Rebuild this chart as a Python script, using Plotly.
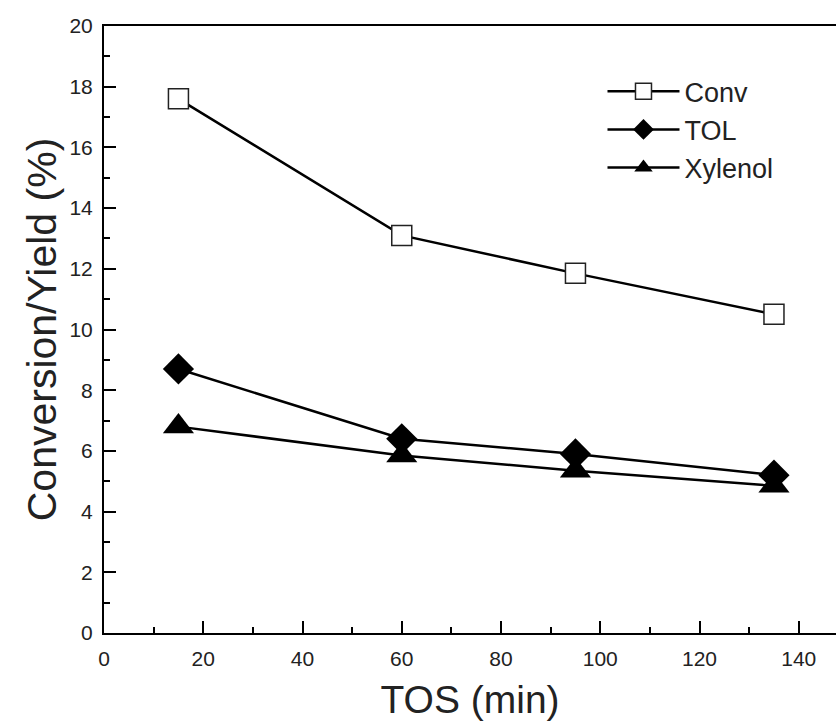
import plotly.graph_objects as go

tos = [15, 60, 95, 135]
conv = [17.6, 13.1, 11.85, 10.5]
tol = [8.7, 6.4, 5.9, 5.2]
xylenol = [6.8, 5.85, 5.35, 4.85]

FONT = "Liberation Sans, Arial, sans-serif"
TXT = "#222"

fig = go.Figure()
fig.add_trace(go.Scatter(
    x=tos, y=conv, name="Conv", mode="lines+markers", legendgroup="a",
    line=dict(color="black", width=2.5),
    marker=dict(symbol="square", size=20, color="white", line=dict(color="#222", width=1.5)),
))
fig.add_trace(go.Scatter(
    x=tos, y=tol, name="TOL", mode="lines+markers", legendgroup="b",
    line=dict(color="black", width=2.5),
    marker=dict(symbol="diamond", size=24, color="black"),
))
fig.add_trace(go.Scatter(
    x=tos, y=xylenol, name="Xylenol", mode="lines+markers", legendgroup="c",
    line=dict(color="black", width=2.5),
    marker=dict(symbol="triangle-up", size=27, color="black"),
))

fig.update_layout(
    width=836, height=726,
    margin=dict(l=104, r=0, t=26, b=93),
    plot_bgcolor="white", paper_bgcolor="white",
    font=dict(family=FONT, color=TXT),
    showlegend=True,
    legend=dict(
        x=0.681, y=0.932, xanchor="left", yanchor="top",
        bgcolor="rgba(0,0,0,0)", font=dict(size=27, family=FONT, color=TXT),
        itemwidth=72, traceorder="grouped", tracegroupgap=0,
    ),
    xaxis=dict(
        range=[0, 147.5], dtick=20, tick0=0,
        showline=True, linecolor="black", linewidth=2, mirror=True,
        ticks="inside", ticklen=12, tickwidth=2, tickcolor="black",
        minor=dict(dtick=10, ticks="inside", ticklen=6, tickwidth=2, tickcolor="black"),
        showgrid=False, zeroline=False,
        ticklabelstandoff=6,
        tickfont=dict(size=21, family=FONT, color=TXT),
        title=dict(text="TOS (min)", font=dict(size=39, family=FONT, color=TXT), standoff=16),
    ),
    yaxis=dict(
        range=[0, 20], dtick=2, tick0=0,
        showline=True, linecolor="black", linewidth=2, mirror=False,
        ticks="inside", ticklen=12, tickwidth=2, tickcolor="black",
        minor=dict(dtick=1, ticks="inside", ticklen=6, tickwidth=2, tickcolor="black"),
        showgrid=False, zeroline=False,
        ticklabelstandoff=5,
        tickfont=dict(size=21, family=FONT, color=TXT),
        title=dict(text="Conversion/Yield (%)", font=dict(size=41, family=FONT, color=TXT), standoff=0),
    ),
)

fig.write_html("out.html")
